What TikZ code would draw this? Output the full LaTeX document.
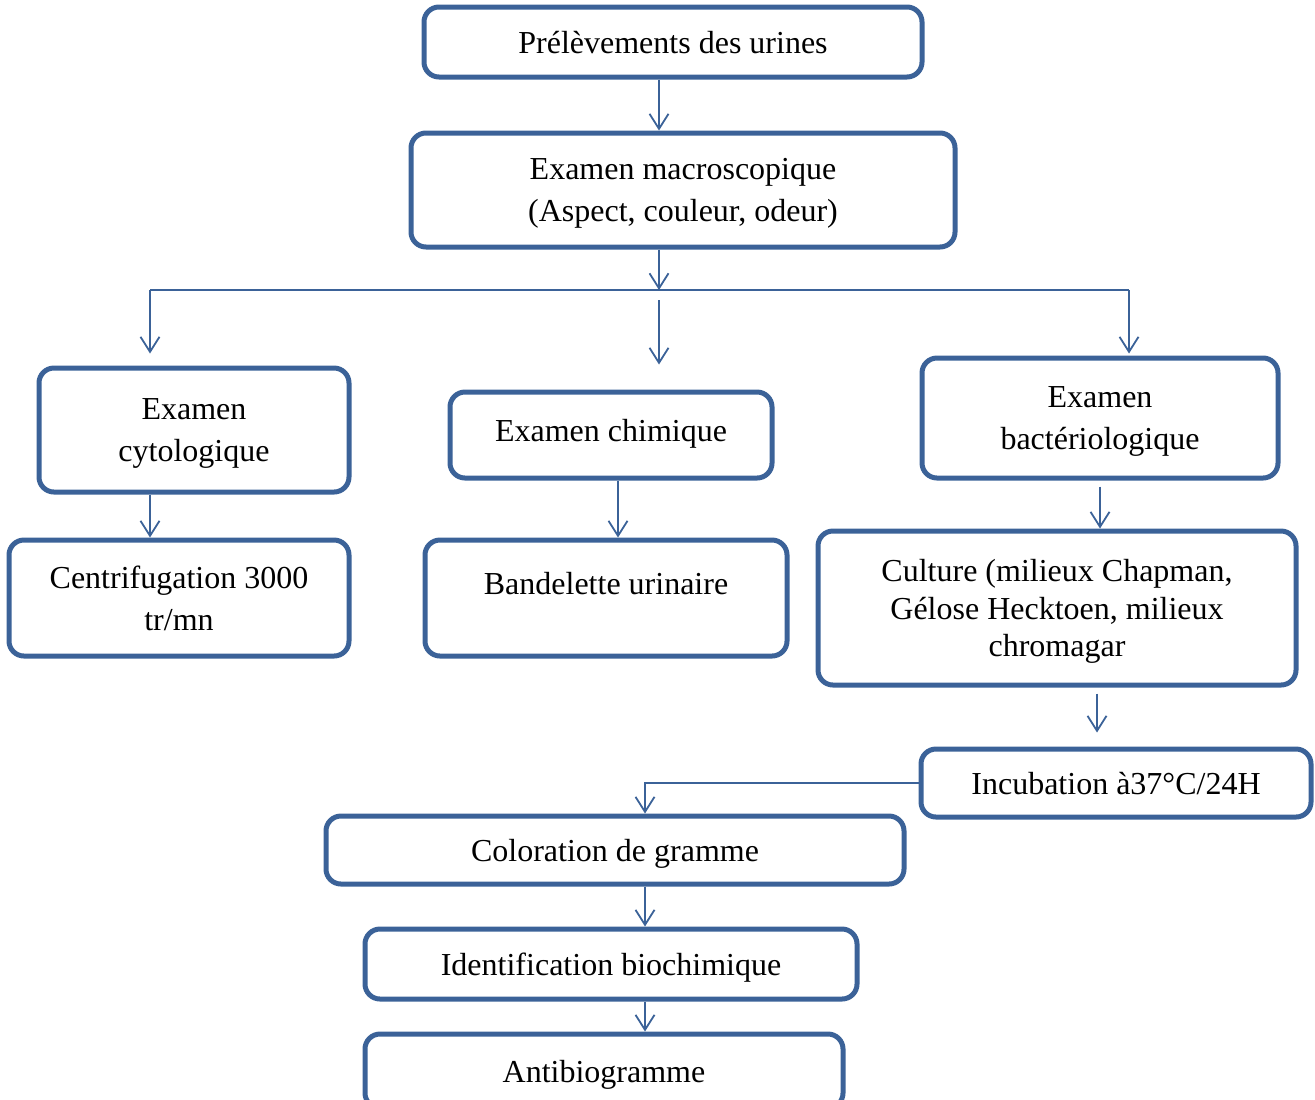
\documentclass[tikz,border=0pt]{standalone}
\usepackage{fontspec}
\setmainfont{Liberation Serif}
\usepackage{xcolor}
\usetikzlibrary{arrows.meta}
\usetikzlibrary{positioning}
\definecolor{boxblue}{RGB}{59,98,152}

\begin{document}
\begin{tikzpicture}[x=0.5pt, y=-0.5pt,
        box/.style = {draw=boxblue, line width=2.5pt, rounded corners=7.5pt, align=center, inner sep=0pt, text depth=0pt, font=\fontsize{16}{21}\selectfont},
        flow/.style = {draw=boxblue, line width=0.9pt, -{Straight Barb[length=7.5pt, width=9.5pt]}},
        link/.style = {draw=boxblue, line width=0.9pt}]
        \clip (0,0) rectangle (1315,1099);

        \node [box, minimum width=249pt, minimum height=35pt] (pre) at (673,42) {Prélèvements des urines};
        \node [box, minimum width=272pt, minimum height=57pt] (macro) at (683,190) {Examen macroscopique\\(Aspect, couleur, odeur)};
        \node [box, minimum width=155pt, minimum height=62pt] (cyto) at (194,430) {Examen\\cytologique};
        \node [box, minimum width=161pt, minimum height=43pt, text depth=4.5pt] (chim) at (611,435) {Examen chimique};
        \node [box, minimum width=178pt, minimum height=60pt] (bact) at (1100,418) {Examen\\bactériologique};
        \node [box, minimum width=170pt, minimum height=58pt] (centri) at (179,598) {Centrifugation 3000\\tr/mn};
        \node [box, minimum width=181pt, minimum height=58pt, text depth=15pt] (bande) at (606,598) {Bandelette urinaire};
        \node [box, minimum width=239pt, minimum height=77pt, font=\fontsize{16}{18.8}\selectfont] (cult) at (1057,608) {Culture (milieux Chapman,\\Gélose Hecktoen, milieux\\chromagar};
        \node [box, minimum width=195pt, minimum height=34pt] (incu) at (1116,783) {Incubation à37°C/24H};
        \node [box, minimum width=289pt, minimum height=34pt] (colo) at (615,850) {Coloration de gramme};
        \node [box, minimum width=246pt, minimum height=35pt] (ident) at (611,964) {Identification biochimique};
        \node [box, minimum width=239pt, minimum height=37pt] (anti) at (604,1071) {Antibiogramme};

        \coordinate (split) at (659,290);
        \coordinate (splitL) at (150,290);
        \coordinate (splitR) at (1129,290);
        \coordinate (chimout) at ([xshift=3.5pt]chim.south);
        \coordinate (cultout) at ([xshift=20pt]cult.south);
        \coordinate (coloin) at ([xshift=15pt]colo.north);

        \draw [flow] (pre.south -| split) -- (macro.north -| split);
        \draw [flow] (macro.south -| split) -- (split);
        \draw [link] (splitL) -- (splitR);
        \draw [flow, shorten >=6pt] (splitL) -- (cyto.north -| splitL);
        \draw [flow, shorten <=5pt, shorten >=12.5pt] (split) -- (chim.north -| split);
        \draw [flow, shorten >=1pt] (splitR) -- (bact.north -| splitR);
        \draw [flow] (cyto.south -| splitL) -- (centri.north -| splitL);
        \draw [flow] (chimout) -- (chimout |- bande.north);
        \draw [flow, shorten <=3pt] (bact.south) -- (bact.south |- cult.north);
        \draw [flow, shorten <=3pt, shorten >=7pt] (cultout) -- (cultout |- incu.north);
        \draw [flow] (incu.west) -| (coloin);
        \draw [flow] (colo.south -| coloin) -- (ident.north -| coloin);
        \draw [flow] (ident.south -| coloin) -- (anti.north -| coloin);
    \end{tikzpicture}
\end{document}
